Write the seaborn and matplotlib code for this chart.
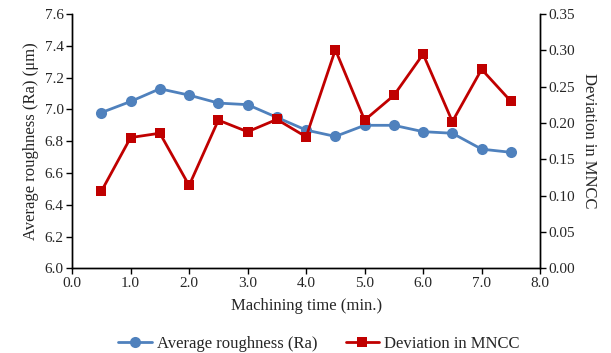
import matplotlib
matplotlib.use("Agg")
import matplotlib.pyplot as plt
import seaborn as sns
import pandas as pd

time_min = [0.5, 1.0, 1.5, 2.0, 2.5, 3.0, 3.5, 4.0, 4.5, 5.0, 5.5, 6.0, 6.5, 7.0, 7.5]
roughness_ra = [6.98, 7.05, 7.13, 7.09, 7.04, 7.03, 6.95, 6.87, 6.83, 6.90, 6.90, 6.86, 6.85, 6.75, 6.73]
mncc_deviation = [0.106, 0.180, 0.186, 0.114, 0.204, 0.188, 0.205, 0.181, 0.301, 0.204, 0.238, 0.295, 0.202, 0.274, 0.230]

df = pd.DataFrame({"t": time_min, "ra": roughness_ra, "dev": mncc_deviation})

sns.set_theme(style="white")
plt.rcParams["font.family"] = ["Liberation Serif", "DejaVu Serif"]
plt.rcParams["font.size"] = 11

blue = "#4F81BD"
red = "#C00000"

fig, ax = plt.subplots(figsize=(6.11, 3.53), dpi=100)
fig.subplots_adjust(left=0.118, right=0.884, top=0.96, bottom=0.24)

sns.lineplot(data=df, x="t", y="ra", ax=ax, color=blue, marker="o", markersize=8,
             markeredgewidth=0, linewidth=2, label="Average roughness (Ra)", legend=False)
ax2 = ax.twinx()
sns.lineplot(data=df, x="t", y="dev", ax=ax2, color=red, marker="s", markersize=7.5,
             markeredgewidth=0, linewidth=2, label="Deviation in MNCC", legend=False)

ax.set_xlim(0, 8)
ax.set_ylim(6.0, 7.6)
ax2.set_ylim(0, 0.35)
ax.set_xticks([i * 1.0 for i in range(9)])
ax.set_xticklabels([f"{i:.1f}" for i in range(9)])
ax.set_yticks([6.0 + 0.2 * i for i in range(9)])
ax.set_yticklabels([f"{6.0 + 0.2 * i:.1f}" for i in range(9)])
ax2.set_yticks([0.05 * i for i in range(8)])
ax2.set_yticklabels([f"{0.05 * i:.2f}" for i in range(8)])

ax.set_xlabel("Machining time (min.)", fontsize=12, labelpad=6)
ax.set_ylabel("Average roughness (Ra) (\u03bcm)", fontsize=12)
ax2.set_ylabel("Deviation in MNCC", fontsize=12, rotation=270, labelpad=16)

for a in (ax, ax2):
    a.spines["top"].set_visible(False)
    for s in ("left", "right", "bottom"):
        a.spines[s].set_color("black")
        a.spines[s].set_linewidth(1)
    a.tick_params(axis="both", which="major", length=4, width=1, color="black",
                  labelsize=11, direction="out", pad=2)
ax.tick_params(left=True, bottom=True)
ax2.tick_params(right=True)
ax.grid(False)
ax2.grid(False)

h1, l1 = ax.get_legend_handles_labels()
h2, l2 = ax2.get_legend_handles_labels()
fig.legend(h1 + h2, l1 + l2, loc="lower center", ncol=2, frameon=False,
           bbox_to_anchor=(0.522, -0.04), fontsize=12, columnspacing=1.7,
           handlelength=2.0, handletextpad=0.3)

fig.savefig("out.png", dpi=100)
